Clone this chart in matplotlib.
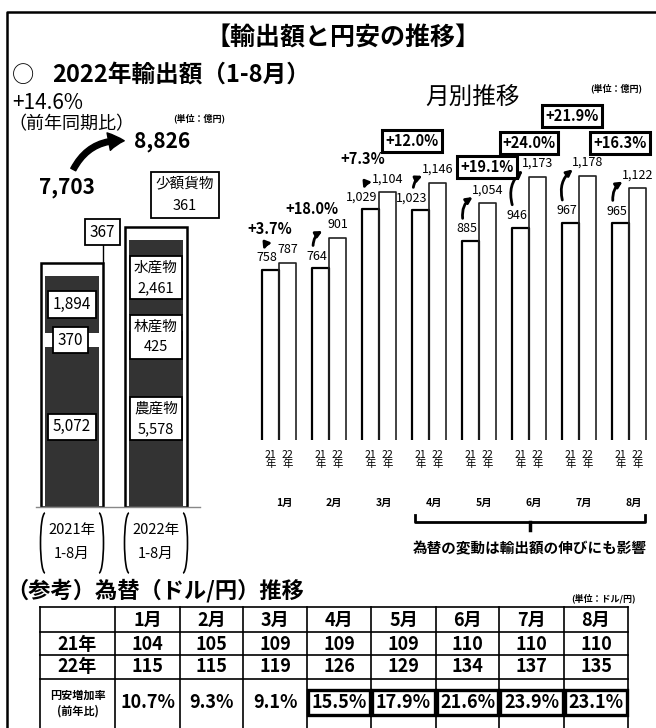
import matplotlib
matplotlib.use("Agg")
import numpy as np
import matplotlib.pyplot as plt
from matplotlib.patches import FancyArrowPatch, Arc, Rectangle
from matplotlib.transforms import blended_transform_factory

plt.rcParams["font.family"] = ["Noto Sans CJK JP", "DejaVu Sans"]

# 品目別輸出額（1-8月累計、億円）
periods = ["2021年\n1-8月", "2022年\n1-8月"]
totals = [7703, 8826]
agri = [5072, 5578]
forest = [370, 425]
fish = [1894, 2461]
small = [367, 361]
total_growth = "+14.6%"

# 月別輸出額（億円）
months = ["1月", "2月", "3月", "4月", "5月", "6月", "7月", "8月"]
exp21 = [758, 764, 1029, 1023, 885, 946, 967, 965]
exp22 = [787, 901, 1104, 1146, 1054, 1173, 1178, 1122]
growth = ["+3.7%", "+18.0%", "+7.3%", "+12.0%", "+19.1%", "+24.0%", "+21.9%", "+16.3%"]

# 為替（ドル/円）
fx21 = [104, 105, 109, 109, 109, 110, 110, 110]
fx22 = [115, 115, 119, 126, 129, 134, 137, 135]
fx_up = ["10.7%", "9.3%", "9.1%", "15.5%", "17.9%", "21.6%", "23.9%", "23.1%"]
focus_from = 3  # 4月以降を強調

W, H = 656, 728
fig = plt.figure(figsize=(W / 100, H / 100), dpi=100)


def px_axes(l, t, r, b):
    return fig.add_axes([l / W, 1 - b / H, (r - l) / W, (b - t) / H])


# 全体用（ピクセル座標）
ax0 = px_axes(0, 0, W, H)
ax0.set_xlim(0, W)
ax0.set_ylim(H, 0)
ax0.axis("off")

ax0.plot([7, 7, W + 5], [H + 5, 12, 12], color="black", lw=1.8)
ax0.text(343, 38, "【輸出額と円安の推移】", ha="center", va="center",
         fontsize=18, fontweight="bold")
ax0.text(12, 75, "○", ha="left", va="center", fontsize=16)
ax0.text(52, 75, "2022年輸出額（1-8月）", ha="left", va="center",
         fontsize=17, fontweight="bold")
ax0.text(12, 103, total_growth, ha="left", va="center", fontsize=15)
ax0.text(8, 124, "（前年同期比）", ha="left", va="center", fontsize=13)
ax0.text(173, 118, "(単位：億円)", ha="left", va="center", fontsize=6.5, fontweight="bold")
ax0.text(162, 141, f"{totals[1]:,}", ha="center", va="center", fontsize=15, fontweight="bold")
ax0.text(67, 188, f"{totals[0]:,}", ha="center", va="center", fontsize=15, fontweight="bold")
ax0.add_patch(FancyArrowPatch((72, 172), (127, 141),
                              connectionstyle="arc3,rad=-0.35",
                              arrowstyle="simple,head_length=0.7,head_width=0.8,tail_width=0.25",
                              mutation_scale=16, color="black"))

# --- 品目別積み上げ棒 ---
k = 0.0317  # px / 億円
axs = px_axes(21.6, 507 - 10500 * k, 206.4, 507)
axs.set_xlim(-0.6, 1.6)
axs.set_ylim(0, 10500)
axs.axis("off")

xs = np.arange(len(periods))
bw = 0.74
bottom = np.zeros(len(periods))
for vals, dark in [(agri, True), (forest, False), (fish, True), (small, False)]:
    vals = np.array(vals, dtype=float)
    axs.bar(xs, vals, bw, bottom=bottom, color="white", edgecolor="none")
    if dark:
        axs.bar(xs, vals - 80, bw - 0.09, bottom=bottom + 40, color="#333333",
                edgecolor="none")
    bottom += vals
axs.bar(xs, totals, bw, fill=False, edgecolor="black", lw=1.8)
axs.plot([-0.43, 1.52], [0, 0], color="#888888", lw=1, clip_on=False)

box = dict(boxstyle="square,pad=0.3", fc="white", ec="black", lw=1.3)
axs.text(0, agri[0] + forest[0] + fish[0] / 2, f"{fish[0]:,}", ha="center", va="center",
         fontsize=11, bbox=box)
axs.text(-0.02, agri[0] + forest[0] / 2, f"{forest[0]:,}", ha="center", va="center",
         fontsize=11, bbox=box)
axs.text(0, agri[0] / 2, f"{agri[0]:,}", ha="center", va="center", fontsize=11, bbox=box)
axs.text(1, agri[1] + forest[1] + fish[1] / 2, f"水産物\n{fish[1]:,}", ha="center",
         va="center", fontsize=10.5, linespacing=1.6, bbox=box)
axs.text(1, agri[1] + forest[1] / 2 - 430, f"林産物\n{forest[1]:,}", ha="center",
         va="center", fontsize=10.5, linespacing=1.6, bbox=box)
axs.text(1, agri[1] / 2, f"農産物\n{agri[1]:,}", ha="center", va="center",
         fontsize=10.5, linespacing=1.6, bbox=box)
axs.text(1.345, 9842, f"少額貨物\n{small[1]}", ha="center", va="center",
         fontsize=10.5, linespacing=1.8, bbox=box)
axs.text(0.36, 8675, f"{small[0]}", ha="center", va="center", fontsize=11, bbox=box)
axs.plot([0.37, 0.37], [8300, totals[0]], color="black", lw=1)

tb_s = blended_transform_factory(axs.transData, ax0.transData)
for i, lab in enumerate(periods):
    axs.text(i, 542, lab, transform=tb_s, ha="center", va="center",
             fontsize=10.5, linespacing=1.9)
    cx = ax0.transData.inverted().transform(axs.transData.transform((i, 0)))[0]
    ax0.add_patch(Arc((cx - 27, 543), 9, 60, theta1=90, theta2=270, lw=1.2))
    ax0.add_patch(Arc((cx + 27, 543), 9, 60, theta1=270, theta2=450, lw=1.2))

# --- 月別推移 ---
km = 0.2245  # px / 億円
axm = px_axes(229, 440 - 1600 * km, 654, 440)
axm.set_xlim(-1, 7.5)
axm.set_ylim(0, 1600)
for s in axm.spines.values():
    s.set_visible(False)
axm.set_yticks([])
axm.patch.set_alpha(0)

w = 1 / 3
mx = np.arange(len(months))
axm.bar(mx - w / 2, exp21, w, color="white", edgecolor="none")
axm.bar(mx + w / 2, exp22, w, color="white", edgecolor="none")
for i in range(len(months)):
    axm.plot([i - w, i - w, i, i], [0, exp21[i], exp21[i], 0], color="black", lw=1.6)
    axm.plot([i, i, i + w, i + w], [0, exp22[i], exp22[i], 0], color="#222222", lw=1.2)

ticks = np.ravel(np.column_stack([mx - w / 2, mx + w / 2]))
axm.set_xticks(ticks, ["21\n年", "22\n年"] * len(months), fontsize=7.5, linespacing=0.95)
axm.tick_params(axis="x", length=0, pad=7)

for i in range(len(months)):
    axm.text(i - 0.04, exp21[i] + 55, f"{exp21[i]:,}", ha="right", va="center", fontsize=9)
    axm.text(i + 0.17, exp22[i] + 60, f"{exp22[i]:,}", ha="center", va="center", fontsize=9)
    y0 = exp21[i] + 90
    y1 = max(exp22[i] + 35, y0 + 30)
    axm.add_patch(FancyArrowPatch((i - 0.32, y0), (i - 0.08, y1),
                                  connectionstyle="arc3,rad=-0.35", arrowstyle="-|>",
                                  mutation_scale=9, lw=2, color="black"))

pct_xy = [(-0.18, 940), (-0.34, 1029), (-0.32, 1252), (-0.34, 1332),
          (0.16, 1216), (0.0, 1323), (-0.14, 1443), (-0.18, 1323)]
for i, (dx, y) in enumerate(pct_xy):
    kw = {}
    if i >= focus_from:
        kw["bbox"] = dict(boxstyle="square,pad=0.2", fc="white", ec="black", lw=2.2)
    axm.text(i + dx, y, growth[i], ha="center", va="center", fontsize=10.5,
             fontweight="bold", **kw)

ax0.text(473, 97, "月別推移", ha="center", va="center", fontsize=17)
ax0.text(616, 88, "(単位：億円)", ha="center", va="center", fontsize=6.5, fontweight="bold")

tb_m = blended_transform_factory(axm.transData, ax0.transData)
for i, m in enumerate(months):
    axm.text(i + 0.1, 503, m, transform=tb_m, ha="center", va="center",
             fontsize=7.5, fontweight="bold")

x0, x1 = focus_from - w + 0.05, len(months) - 1 + w - 0.02
xm = (x0 + x1) / 2
axm.plot([x0, x0, x1, x1], [515, 522, 522, 515], transform=tb_m, color="black", lw=2,
         clip_on=False)
axm.plot([xm, xm], [522, 530], transform=tb_m, color="black", lw=2.5, clip_on=False)
axm.text(xm, 548, "為替の変動は輸出額の伸びにも影響", transform=tb_m, ha="center",
         va="center", fontsize=10.5, fontweight="bold")

# --- 為替表 ---
ax0.text(6, 591, "（参考）為替（ドル/円）推移", ha="left", va="center",
         fontsize=16, fontweight="bold")
ax0.text(571, 598, "(単位：ドル/円)", ha="left", va="center", fontsize=6.5, fontweight="bold")

col_x = [40, 115, 180, 243, 307, 371, 436, 499, 564, 628]
row_y = [607, 632, 655, 679]
for x in col_x:
    ax0.plot([x, x], [row_y[0], H + 5], color="black", lw=1.2)
for y in row_y:
    ax0.plot([col_x[0], col_x[-1]], [y, y], color="black", lw=1.2)

cell_cx = [(col_x[j] + col_x[j + 1]) / 2 for j in range(len(col_x) - 1)]
ax0.text(cell_cx[0], 644, "21年", ha="center", va="center", fontsize=13, fontweight="bold")
ax0.text(cell_cx[0], 667, "22年", ha="center", va="center", fontsize=13, fontweight="bold")
ax0.text(cell_cx[0], 703, "円安増加率\n(前年比)", ha="center", va="center",
         fontsize=8, fontweight="bold", linespacing=1.3)
for j in range(len(months)):
    cx = cell_cx[j + 1]
    ax0.text(cx, 620, months[j], ha="center", va="center", fontsize=13, fontweight="bold")
    ax0.text(cx, 644, str(fx21[j]), ha="center", va="center", fontsize=13, fontweight="bold")
    ax0.text(cx, 667, str(fx22[j]), ha="center", va="center", fontsize=13, fontweight="bold")
    ax0.text(cx, 703, fx_up[j], ha="center", va="center", fontsize=13, fontweight="bold")
    if j >= focus_from:
        ax0.add_patch(Rectangle((col_x[j + 1] + 1, 690), col_x[j + 2] - col_x[j + 1] - 2, 25,
                                fill=False, ec="black", lw=2.4))

fig.savefig("out.png", dpi=100)
